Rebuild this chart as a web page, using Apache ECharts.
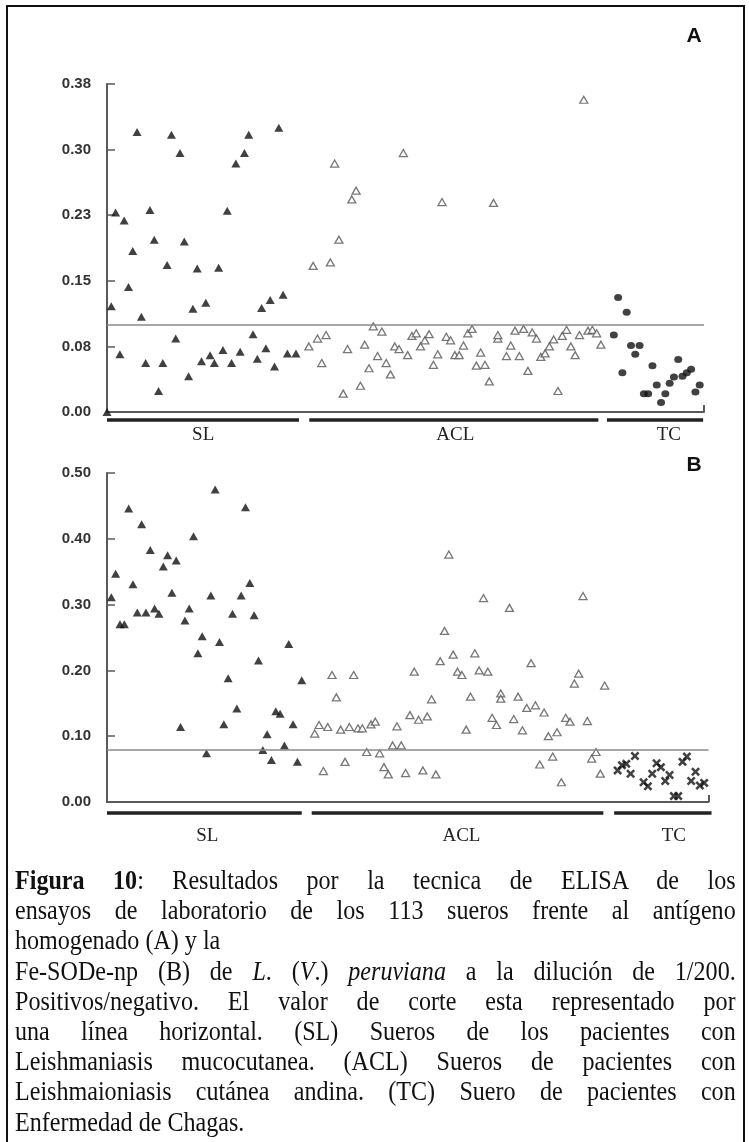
<!DOCTYPE html>
<html>
<head>
<meta charset="utf-8">
<script src="https://cdn.jsdelivr.net/npm/echarts@6/dist/echarts.min.js"></script>
<style>
  html, body { margin: 0; padding: 0; background: #fff; }
  #chart { position: absolute; left: 0; top: 0; width: 749px; height: 1142px; }
  #caption { position: absolute; left: 15px; top: 865px; width: 838px;
    transform: scaleX(0.86); transform-origin: 0 0;
    font-family: "Liberation Serif", "Times New Roman", serif; font-size: 28px; color: #111; }
  #caption div { height: 30.2px; line-height: 30.2px; white-space: nowrap; }
  #caption .j { text-align: justify; text-align-last: justify; white-space: normal; overflow: hidden; }
</style>
</head>
<body>
<div id="chart"></div>
<div id="caption">
  <div class="j"><b>Figura 10</b>: Resultados por la tecnica de ELISA de los</div>
  <div class="j">ensayos de laboratorio de los 113 sueros frente al antígeno</div>
  <div>homogenado (A) y la</div>
  <div class="j">Fe-SODe-np (B) de <i>L</i>. (<i>V</i>.) <i>peruviana</i> a la dilución de 1/200.</div>
  <div class="j">Positivos/negativo. El valor de corte esta representado por</div>
  <div class="j">una línea horizontal. (SL) Sueros de los pacientes con</div>
  <div class="j">Leishmaniasis mucocutanea. (ACL) Sueros de pacientes con</div>
  <div class="j">Leishmaioniasis cutánea andina. (TC) Suero de pacientes con</div>
  <div>Enfermedad de Chagas.</div>
</div>
<script>
// ---------- DATA ----------
const yLabelsA = ['0.00', '0.08', '0.15', '0.23', '0.30', '0.38'];
const yLabelsB = ['0.00', '0.10', '0.20', '0.30', '0.40', '0.50'];
const cutA = 0.101;
const cutB = 0.081;
const groupNames = ['SL', 'ACL', 'TC'];
const groupStartA = [0, 47.1, 116.4];
const groupEndA = [44.7, 114.4, 138.8];
const groupLabelXA = [22.4, 81.1, 130.8];
const groupStartB = [0, 47.3, 117.2];
const groupEndB = [45.0, 114.7, 139.7];
const groupLabelXB = [23.2, 81.9, 131.0];

// Panel A: homogenate antigen
const slA = [[0,0.000],[1,0.121],[2,0.228],[3,0.066],[4,0.219],[5,0.143],[6,0.184],[7,0.320],[8,0.109],[9,0.056],
  [10,0.231],[11,0.197],[12,0.024],[13,0.056],[14,0.168],[15,0.317],[16,0.084],[17,0.296],[18,0.195],[19,0.041],
  [20,0.118],[21,0.164],[22,0.058],[23,0.125],[24,0.065],[25,0.056],[26,0.165],[27,0.071],[28,0.230],[29,0.056],
  [30,0.284],[31,0.069],[32,0.296],[33,0.317],[34,0.089],[35,0.061],[36,0.119],[37,0.073],[38,0.128],[39,0.052],
  [40,0.325],[41,0.134],[42,0.067],[44,0.067]];
const aclA = [[47,0.075],[48,0.167],[49,0.084],[50,0.056],[51,0.088],[52,0.171],[53,0.284],[54,0.197],[55,0.021],
  [56,0.072],[57,0.243],[58,0.253],[59,0.030],[60,0.077],[61,0.050],[62,0.098],[63,0.064],[64,0.092],[65,0.056],
  [66,0.043],[67,0.075],[68,0.072],[69,0.296],[70,0.065],[71,0.087],[72,0.090],[73,0.075],[74,0.082],[75,0.089],
  [76,0.054],[77,0.066],[78,0.240],[79,0.086],[80,0.082],[81,0.065],[82,0.065],[83,0.076],[84,0.090],[85,0.095],
  [86,0.053],[87,0.068],[88,0.054],[89,0.035],[90,0.239],[91,0.084],[91,0.088],[93,0.064],[94,0.076],[95,0.093],
  [96,0.064],[97,0.095],[98,0.047],[99,0.091],[100,0.084],[101,0.063],[102,0.067],[103,0.075],[104,0.083],
  [105,0.024],[106,0.087],[107,0.094],[108,0.075],[109,0.065],[110,0.088],[111,0.357],[112,0.093],[113,0.094],
  [114,0.090],[115,0.077]];
const tcA = [[118,0.088],[119,0.131],[120,0.045],[121,0.114],[122,0.076],[123,0.066],[124,0.076],[125,0.021],
  [126,0.021],[127,0.053],[128,0.031],[129,0.011],[130,0.021],[131,0.033],[132,0.040],[133,0.060],[134,0.041],
  [135,0.045],[136,0.049],[137,0.023],[138,0.031]];

// Panel B: Fe-SODe-np
const slB = [[1,0.311],[2,0.347],[3,0.270],[4,0.270],[5,0.446],[6,0.331],[7,0.288],[8,0.422],[9,0.288],[10,0.383],
  [11,0.294],[12,0.286],[13,0.358],[14,0.375],[15,0.318],[16,0.367],[17,0.114],[18,0.276],[19,0.294],[20,0.404],
  [21,0.226],[22,0.252],[23,0.074],[24,0.314],[25,0.475],[26,0.243],[27,0.118],[28,0.188],[29,0.286],[30,0.142],
  [31,0.314],[32,0.448],[33,0.333],[34,0.284],[35,0.215],[36,0.079],[37,0.103],[38,0.064],[39,0.138],[40,0.134],
  [41,0.086],[42,0.240],[43,0.118],[44,0.061],[45,0.185]];
const aclB = [[48,0.104],[49,0.117],[50,0.047],[51,0.114],[52,0.193],[53,0.159],[54,0.110],[55,0.061],[56,0.114],
  [57,0.193],[58,0.112],[59,0.112],[60,0.076],[61,0.118],[62,0.122],[63,0.074],[64,0.053],[65,0.042],[66,0.086],
  [67,0.115],[68,0.086],[69,0.044],[70,0.132],[71,0.198],[72,0.125],[73,0.048],[74,0.130],[75,0.156],[76,0.042],
  [77,0.214],[78,0.260],[79,0.376],[80,0.224],[81,0.198],[82,0.193],[83,0.110],[84,0.160],[85,0.226],[86,0.200],
  [87,0.310],[88,0.198],[89,0.128],[90,0.117],[91,0.165],[91,0.157],[93,0.295],[94,0.126],[95,0.160],[96,0.109],
  [97,0.143],[98,0.211],[99,0.147],[100,0.057],[101,0.136],[102,0.100],[103,0.069],[104,0.106],[105,0.030],
  [106,0.128],[107,0.122],[108,0.180],[109,0.195],[110,0.313],[111,0.123],[112,0.066],[113,0.076],[114,0.043],
  [115,0.177]];
const tcB = [[118,0.048],[119,0.056],[120,0.058],[121,0.043],[122,0.070],[124,0.030],[125,0.024],[126,0.043],
  [127,0.059],[128,0.053],[129,0.032],[130,0.041],[131,0.009],[132,0.009],[133,0.061],[134,0.069],[135,0.032],
  [136,0.046],[137,0.025],[138,0.029]];

// ---------- CHART ----------
const chart = echarts.init(document.getElementById('chart'), null, { renderer: 'canvas' });
const axisColor = '#5a5a5a';
const crossPath = 'path://M0,2 L2,0 L5,3 L8,0 L10,2 L7,5 L10,8 L8,10 L5,7 L2,10 L0,8 L3,5 Z';

function xAx(gi) {
  return {
    gridIndex: gi, type: 'value', min: 0, max: 139, interval: 139,
    axisLine: { show: true, onZero: false, lineStyle: { color: axisColor, width: 2 } },
    axisTick: { show: true, inside: true, length: 7, lineStyle: { color: axisColor, width: 2 } },
    axisLabel: { show: false }, splitLine: { show: false }
  };
}
function yAx(gi, max, interval, labels) {
  return {
    gridIndex: gi, type: 'value', min: 0, max: max, interval: interval,
    axisLine: { show: true, lineStyle: { color: axisColor, width: 2 } },
    axisTick: { show: true, inside: true, length: 8, lineStyle: { color: axisColor, width: 1.5 } },
    axisLabel: {
      margin: 16, color: '#333', fontFamily: 'Liberation Sans, Arial, sans-serif',
      fontWeight: 'bold', fontSize: 15,
      formatter: function (v, i) { return labels[i]; }
    },
    splitLine: { show: false }
  };
}
const filledTri = { symbol: 'triangle', symbolSize: [9, 8], itemStyle: { color: '#111' } };
const openTri = { symbol: 'triangle', symbolSize: [8, 7], itemStyle: { color: '#fff', borderColor: '#555', borderWidth: 1.3 } };
function cutLine(v) {
  return { silent: true, symbol: 'none', label: { show: false },
    lineStyle: { color: '#8a8a8a', width: 1.5, type: 'solid' }, data: [{ yAxis: v }] };
}

chart.setOption({
  animation: false,
  backgroundColor: '#fff',
  grid: [
    { left: 107, right: 45, top: 84, height: 328 },
    { left: 107, right: 40.5, top: 473, height: 329 }
  ],
  xAxis: [xAx(0), xAx(1)],
  yAxis: [yAx(0, 0.375, 0.075, yLabelsA), yAx(1, 0.5, 0.1, yLabelsB)],
  series: [
    Object.assign({ type: 'scatter', name: 'SL A', xAxisIndex: 0, yAxisIndex: 0, data: slA, markLine: cutLine(cutA), z: 3 }, filledTri),
    Object.assign({ type: 'scatter', name: 'ACL A', xAxisIndex: 0, yAxisIndex: 0, data: aclA, z: 3 }, openTri),
    { type: 'scatter', name: 'TC A', xAxisIndex: 0, yAxisIndex: 0, data: tcA, symbol: 'circle', symbolSize: [8, 7], itemStyle: { color: '#111' }, z: 3 },
    Object.assign({ type: 'scatter', name: 'SL B', xAxisIndex: 1, yAxisIndex: 1, data: slB, markLine: cutLine(cutB), z: 3 }, filledTri),
    Object.assign({ type: 'scatter', name: 'ACL B', xAxisIndex: 1, yAxisIndex: 1, data: aclB, z: 3 }, openTri),
    { type: 'scatter', name: 'TC B', xAxisIndex: 1, yAxisIndex: 1, data: tcB, symbol: crossPath, symbolSize: 9, itemStyle: { color: '#111' }, z: 3 }
  ]
});

// group bars and labels, positioned through the axes' own scales
const graphics = [];
function addGroups(gi, starts, ends, labelXs, barOffset, labelOffset) {
  for (let k = 0; k < groupNames.length; k++) {
    const p0 = chart.convertToPixel({ xAxisIndex: gi, yAxisIndex: gi }, [starts[k], 0]);
    const p1 = chart.convertToPixel({ xAxisIndex: gi, yAxisIndex: gi }, [ends[k], 0]);
    const pl = chart.convertToPixel({ xAxisIndex: gi, yAxisIndex: gi }, [labelXs[k], 0]);
    graphics.push({ type: 'line', shape: { x1: p0[0], y1: p0[1] + barOffset, x2: p1[0], y2: p1[1] + barOffset },
      style: { stroke: '#222', lineWidth: 3.5 } });
    graphics.push({ type: 'text', x: pl[0], y: pl[1] + labelOffset,
      style: { text: groupNames[k], fill: '#222', font: '19px "Liberation Serif", "Times New Roman", serif',
        textAlign: 'center', textVerticalAlign: 'middle' } });
  }
}
addGroups(0, groupStartA, groupEndA, groupLabelXA, 8, 23);
addGroups(1, groupStartB, groupEndB, groupLabelXB, 11, 34);
graphics.push({ type: 'text', x: 694, y: 36, style: { text: 'A', fill: '#111',
  font: 'bold 21px "Liberation Sans", Arial, sans-serif', textAlign: 'center', textVerticalAlign: 'middle' } });
graphics.push({ type: 'text', x: 694, y: 465, style: { text: 'B', fill: '#111',
  font: 'bold 21px "Liberation Sans", Arial, sans-serif', textAlign: 'center', textVerticalAlign: 'middle' } });
graphics.push({ type: 'rect', shape: { x: 7, y: 6, width: 737, height: 1145 },
  style: { fill: 'none', stroke: '#111', lineWidth: 2 }, z: 10 });
chart.setOption({ graphic: graphics });
</script>
</body>
</html>
